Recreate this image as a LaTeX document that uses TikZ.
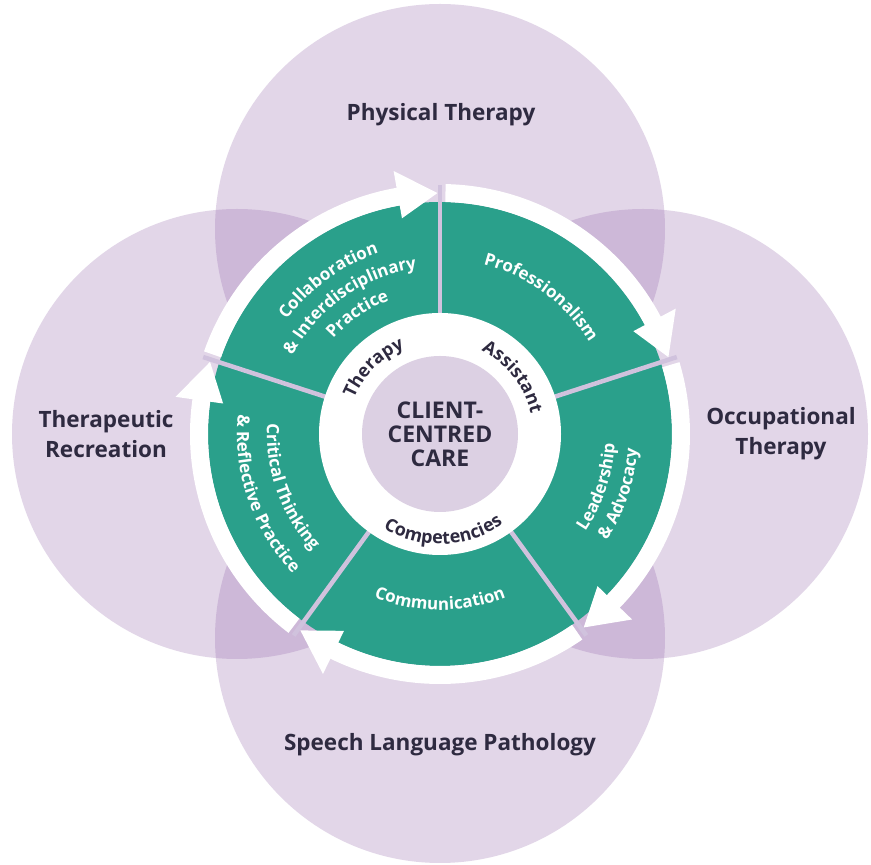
\documentclass[tikz,border=0pt]{standalone}
\usepackage{fontspec}
\setmainfont{Open Sans}
\usetikzlibrary{calc,decorations.text}
\definecolor{lilac}{HTML}{E2D6E8}
\definecolor{lilacdark}{HTML}{CDB8D8}
\definecolor{innerlilac}{HTML}{DCD0E3}
\definecolor{sepcol}{HTML}{D0C2DD}
\definecolor{wteal}{HTML}{2AA08B}
\definecolor{ink}{HTML}{2E2A40}
\newcommand\segfont{\fontsize{17}{17}\selectfont\bfseries\color{white}}
\newcommand\ringfont{\fontsize{18}{18}\selectfont\bfseries\color{ink}}
% #1 centre angle, #2 baseline radius, #3 1 = clockwise / -1 = counter-clockwise, #4 format, #5 text
\newcommand\ringtext[5]{%
  \pgfmathsetmacro\aA{#1+#3*75}%
  \pgfmathsetmacro\aB{#1-#3*75}%
  \path[decorate, decoration={text along path, text align=center, text={|#4|#5}}]
    ($(C)+(\aA:#2)$) arc[start angle=\aA, end angle=\aB, radius=#2];
}
\begin{document}
\begin{tikzpicture}[x=1pt,y=1pt,
  outerlabel/.style={font=\fontsize{22.5}{30}\selectfont\bfseries, text=ink, align=center},
  corelabel/.style={font=\fontsize{23}{24}\selectfont\bfseries, text=ink, align=center}]
\useasboundingbox (0,0) rectangle (871,865);
\fill[white] (0,0) rectangle (871,865);
\coordinate (C) at (440,431);
\coordinate (T) at (440,636);
\coordinate (B) at (440,227);
\coordinate (L) at (237,431);
\coordinate (R) at (643,431);
% outer discipline circles
\foreach \p in {T,B,L,R} \fill[lilac] (\p) circle[radius=225];
\foreach \a/\b in {T/L,T/R,B/L,B/R}{
  \begin{scope}
    \clip (\a) circle[radius=225];
    \fill[lilacdark] (\b) circle[radius=225];
  \end{scope}
}
% teal ring
\fill[wteal] (C) circle[radius=232];
% separators
\foreach \s in {90,18,-54,-126,-198}
  \draw[sepcol, line width=4.5pt] ($(C)+(\s:118)$) -- ($(C)+(\s:249)$);
% white arrow bands
\foreach \lo in {90,18,-54,-126,-198}{
  \pgfmathsetmacro\hs{\lo+72-1.3}
  \pgfmathsetmacro\he{\lo+9}
  \pgfmathsetmacro\tip{\lo+0.6}
  \pgfmathsetmacro\back{\lo+10}
  \fill[white] ($(C)+(\hs:232)$) arc[start angle=\hs, end angle=\he, radius=232]
     -- ($(C)+(\he:250)$) arc[start angle=\he, end angle=\hs, radius=250] -- cycle;
  \fill[white] ($(C)+(\back:219)$) -- ($(C)+(\tip:241)$) -- ($(C)+(\back:267)$) -- cycle;
}
% inner rings
\fill[white] (C) circle[radius=121];
\fill[innerlilac] (C) circle[radius=78];
% labels
\node[corelabel] (core) at (440,431) {CLIENT-\\CENTRED\\CARE};
\node[outerlabel] (pt) at (441,750) {Physical Therapy};
\node[outerlabel] (tr) at (106,431) {Therapeutic\\Recreation};
\node[outerlabel] (ot) at (781,431) {Occupational\\Therapy};
\node[outerlabel] (slp) at (440,120) {Speech Language Pathology};
% inner ring words
\ringtext{135}{93}{1}{\ringfont}{Therapy}
\ringtext{38}{93}{1}{\ringfont}{Assistant}
\ringtext{272}{110}{-1}{\ringfont}{Competencies}
% segment words
\ringtext{126}{191}{1}{\segfont}{Collaboration}
\ringtext{125}{167}{1}{\segfont}{{\&} Interdisciplinary}
\ringtext{124.5}{143}{1}{\segfont}{Practice}
\ringtext{53.5}{175}{1}{\segfont}{Professionalism}
\ringtext{-18.5}{175}{-1}{\segfont}{Leadership}
\ringtext{-18.5}{198}{-1}{\segfont}{{\&} Advocacy}
\ringtext{270}{176}{-1}{\segfont}{Communication}
\ringtext{199.5}{173}{-1}{\segfont}{Critical Thinking}
\ringtext{199}{203}{-1}{\segfont}{{\&} Reflective Practice}
\end{tikzpicture}
\end{document}
